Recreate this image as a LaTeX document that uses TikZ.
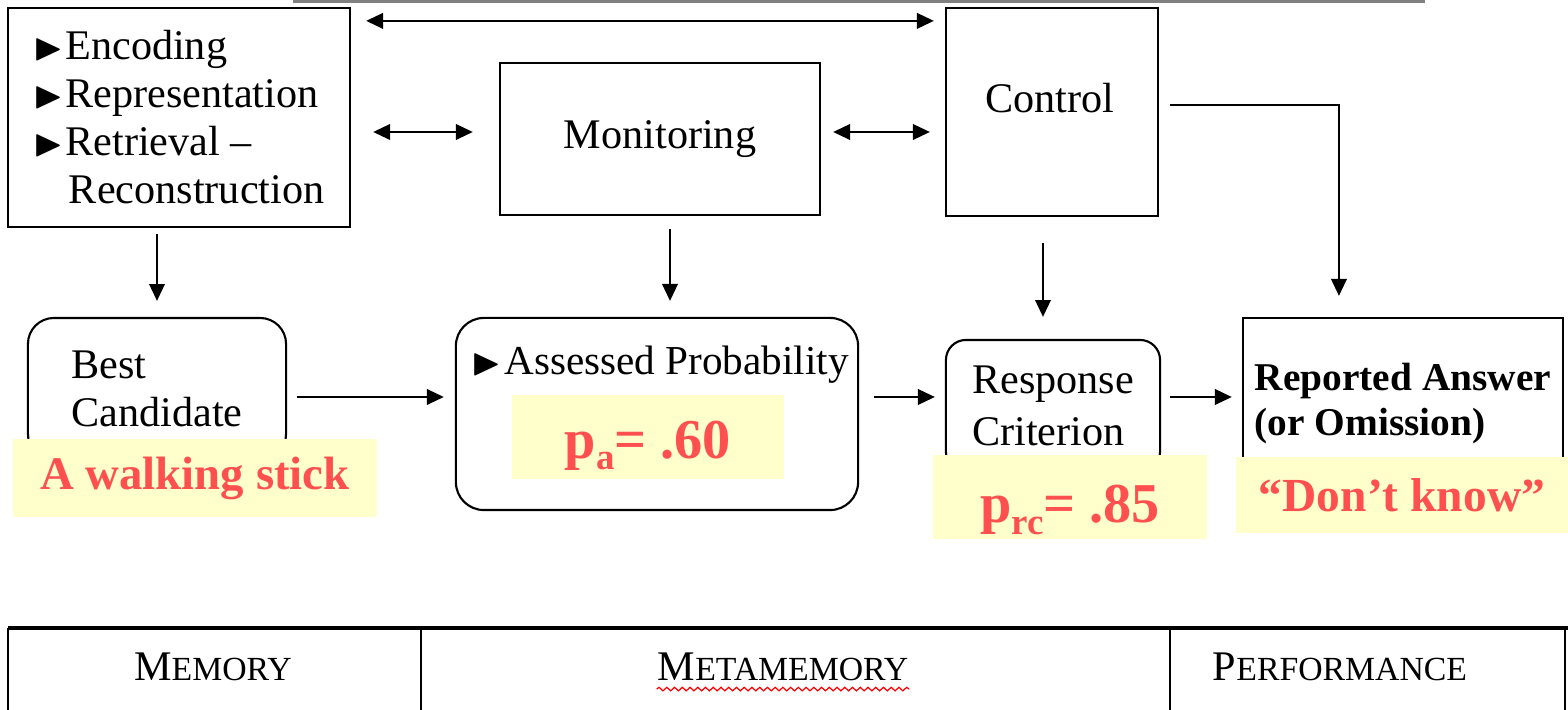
\documentclass[tikz,border=0pt]{standalone}
\usepackage{amssymb}
\usepackage{fontspec}
\setmainfont{Liberation Serif}
\usetikzlibrary{arrows.meta, positioning, calc, decorations.pathmorphing}
\definecolor{hlyellow}{RGB}{255, 255, 204}
\definecolor{hlred}{RGB}{255, 80, 80}
\newcommand{\lowsub}[1]{\raisebox{-0.45ex}{\fontsize{10.5}{11}\selectfont #1}}
\newcommand{\tri}{{\fontsize{11}{10}\selectfont$\blacktriangleright$}}

\begin{document}
\begin{tikzpicture}[x=0.01cm, y=-0.01cm, line width=0.6pt,
    every node/.style={font=\fontsize{12}{13.7}\selectfont},
    sqbox/.style={draw, inner sep=0pt, align=left},
    rbox/.style={draw, rounded corners=0.26cm, inner sep=0pt, align=left},
    hilite/.style={fill=hlyellow, text=hlred, inner sep=0pt, font=\bfseries\fontsize{16}{18}\selectfont},
    arr/.style={-{Triangle[length=4.8pt, width=4.4pt]}},
    dbl/.style={{Triangle[length=4.8pt, width=4.4pt]}-{Triangle[length=4.8pt, width=4.4pt]}}]
        \useasboundingbox (0,0) rectangle (1568,710);
        \fill[gray] (293,0) rectangle (1425,3);

        % top row: memory, monitoring, control
        \node[sqbox, minimum width=3.42cm, minimum height=2.19cm] (mem) at (179,117.5)
          {\tri\hspace{0.5pt}Encoding\\ \tri\hspace{0.5pt}Representation\\ \tri\hspace{0.5pt}Retrieval --\\ \phantom{\tri}\hspace{1.5pt}Reconstruction};
        \node[sqbox, minimum width=3.2cm, minimum height=1.52cm] (mon) at (660,139) {Monitoring};
        \node[sqbox, minimum width=2.12cm, minimum height=2.08cm] (ctrl) at (1052,112) {};
        \node (ctrltxt) at (1050,98) {Control};

        % middle row
        \node[rbox, minimum width=2.58cm, minimum height=1.42cm] (bc) at (157,389) {Best\\Candidate};
        \node[rbox, rounded corners=0.28cm, minimum width=4.02cm, minimum height=1.92cm] (assess) at (657,414) {};
        \node[anchor=west, inner sep=0pt, font=\fontsize{11.7}{13}\selectfont] (asstxt) at (470,365)
          {\tri\hspace{1pt}Assessed Probability};
        \node[rbox, rounded corners=0.2cm, minimum width=2.14cm, minimum height=1.32cm,
              font=\fontsize{12}{14.8}\selectfont] (resp) at (1053,406) {Response\\Criterion};
        \node[sqbox, minimum width=3.2cm, minimum height=1.62cm, text depth=0pt,
              font=\bfseries\fontsize{11.2}{12.8}\selectfont] (rep) at (1403,399) {Reported Answer\\(or Omission)};

        % highlighted example values
        \node[hilite, minimum width=3.64cm, minimum height=0.77cm,
              font=\bfseries\fontsize{13.3}{15}\selectfont] (walk) at (195,478) {A walking stick};
        \node[hilite, minimum width=2.71cm, minimum height=0.83cm,
              text height=12pt, text depth=0pt] (pa) at (648,437) {p\lowsub{a}= .60};
        \node[hilite, minimum width=2.73cm, minimum height=0.83cm,
              text height=14.5pt, text depth=0pt] (prc) at (1070,497) {p\lowsub{rc}= .85};
        \node[hilite, minimum width=3.31cm, minimum height=0.76cm,
              font=\bfseries\fontsize{13.5}{15}\selectfont] (dk) at (1402,495) {“Don’t know”};

        % two-way links
        \draw[dbl, shorten <=0.15cm, shorten >=0.11cm]
          ([yshift=-0.14cm]mem.north east) -- ([yshift=-0.14cm]mem.north east -| ctrl.west);
        \draw[dbl, shorten <=0.22cm, shorten >=0.26cm]
          ([yshift=0.07cm]mon.west -| mem.east) -- ([yshift=0.07cm]mon.west);
        \draw[dbl, shorten <=0.12cm, shorten >=0.15cm]
          ([yshift=0.07cm]mon.east) -- ([yshift=0.07cm]mon.east -| ctrl.west);

        % downward arrows
        \draw[arr, shorten <=0.06cm, shorten >=0.16cm] (bc.north |- mem.south) -- (bc.north);
        \draw[arr, shorten <=0.13cm, shorten >=0.16cm]
          ([xshift=0.1cm]mon.south) -- ([xshift=0.1cm]mon.south |- assess.north);
        \draw[arr, shorten <=0.26cm, shorten >=0.22cm]
          ([xshift=-0.09cm]ctrl.south) -- ([xshift=-0.09cm]ctrl.south |- resp.north);
        \draw[arr, shorten <=0.11cm, shorten >=0.21cm]
          ([yshift=0.07cm]ctrl.east) -| ([xshift=-0.64cm]rep.north);

        % left to right flow
        \draw[arr, shorten <=0.1cm, shorten >=0.11cm]
          ([yshift=-0.08cm]bc.east) -- ([yshift=-0.08cm]bc.east -| assess.west);
        \draw[arr, shorten <=0.15cm, shorten >=0.1cm]
          ([yshift=0.09cm]resp.west -| assess.east) -- ([yshift=0.09cm]resp.west);
        \draw[arr, shorten <=0.09cm, shorten >=0.1cm]
          ([yshift=0.09cm]resp.east) -- ([yshift=0.09cm]resp.east -| rep.west);

        % bottom table
        \draw[line width=0.9pt] (8,628) -- (1568,628);
        \foreach \x in {8, 421, 1170, 1565}{
          \draw (\x,628) -- (\x,720);
        }
        \foreach \x/\name/\first/\rest in {213/memlbl/M/EMORY, 783/metalbl/M/ETAMEMORY, 1340/perflbl/P/ERFORMANCE}{
          \node[inner sep=0pt] (\name) at (\x,667) {\first{\fontsize{9.6}{10}\selectfont\rest}};
        }
        \draw[red, line width=0.35pt, decorate, decoration={snake, amplitude=0.5pt, segment length=2.2pt}]
          ([yshift=-2.4pt]metalbl.base west) -- ([yshift=-2.4pt]metalbl.base east);
\end{tikzpicture}
\end{document}
